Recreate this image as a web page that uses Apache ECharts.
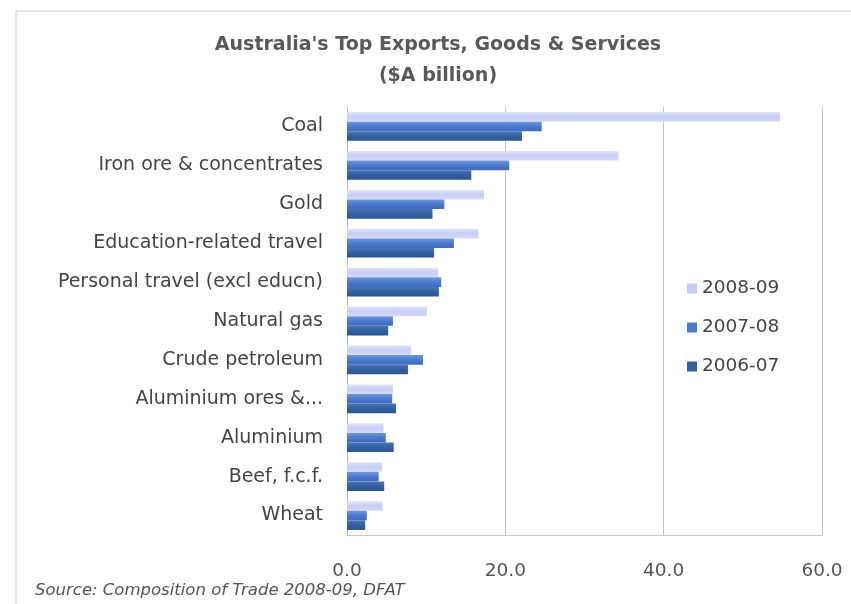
<!DOCTYPE html>
<html>
<head>
<meta charset="utf-8">
<script src="https://cdn.jsdelivr.net/npm/echarts@6/dist/echarts.min.js"></script>
<style>
  html, body { margin: 0; padding: 0; background: #ffffff; }
  #chart { width: 851px; height: 604px; }
</style>
</head>
<body>
<div id="chart"></div>
<script>
// Australia's top exports, goods & services ($A billion)
const categories = [
  'Coal',
  'Iron ore & concentrates',
  'Gold',
  'Education-related travel',
  'Personal travel (excl educn)',
  'Natural gas',
  'Crude petroleum',
  'Aluminium ores &...',
  'Aluminium',
  'Beef, f.c.f.',
  'Wheat'
];
const years = ['2008-09', '2007-08', '2006-07'];
const values2008_09 = [54.7, 34.3, 17.3, 16.6, 11.5, 10.1, 8.1, 5.8, 4.6, 4.4, 4.5];
const values2007_08 = [24.6, 20.5, 12.3, 13.5, 11.9, 5.8, 9.6, 5.7, 4.9, 4.0, 2.5];
const values2006_07 = [22.1, 15.7, 10.8, 11.0, 11.6, 5.2, 7.7, 6.2, 5.9, 4.7, 2.3];
const xTicks = [0, 20, 40, 60];
const titleLines = ["Australia's Top Exports, Goods & Services", '($A billion)'];
const sourceNote = 'Source: Composition of Trade 2008-09, DFAT';

const FONT = 'DejaVu Sans';

function grad(top, mid, bottom) {
  return new echarts.graphic.LinearGradient(0, 0, 0, 1, [
    { offset: 0, color: top },
    { offset: 0.5, color: mid },
    { offset: 1, color: bottom }
  ]);
}

const colours = [
  grad('#dfe3fb', '#c8cef6', '#d6dbf8'),
  grad('#6f97dc', '#4a7acd', '#3d6bbd'),
  grad('#4a74bb', '#34609f', '#2c5592')
];
const legendColours = ['#c6ccf4', '#4a7acd', '#34609f'];
const seriesValues = [values2008_09, values2007_08, values2006_07];

const chart = echarts.init(document.getElementById('chart'), null, { renderer: 'canvas' });

chart.setOption({
  animation: false,
  backgroundColor: '#ffffff',
  textStyle: { fontFamily: FONT },
  legend: {
    orient: 'vertical',
    left: 682,
    top: 274,
    itemWidth: 10,
    itemHeight: 10,
    itemGap: 20,
    icon: 'rect',
    data: years.map((y, i) => ({ name: y, itemStyle: { color: legendColours[i] } })),
    textStyle: { fontFamily: FONT, fontSize: 18.5, color: '#444444' }
  },
  grid: { left: 347, right: 29, top: 107, bottom: 69, containLabel: false },
  xAxis: {
    type: 'value',
    min: 0,
    max: 60,
    interval: 20,
    axisLine: { show: true, lineStyle: { color: '#c8c8c8' } },
    axisTick: { show: false },
    splitLine: { show: true, lineStyle: { color: '#c4c4c4', width: 1 } },
    axisLabel: {
      margin: 27,
      fontFamily: FONT,
      fontSize: 18.5,
      color: '#555555',
      formatter: v => xTicks.includes(v) ? v.toFixed(1) : ''
    }
  },
  yAxis: {
    type: 'category',
    inverse: true,
    data: categories,
    axisLine: { show: true, lineStyle: { color: '#b8b8b8' } },
    axisTick: { show: false },
    axisLabel: {
      margin: 24,
      fontFamily: FONT,
      fontSize: 19,
      color: '#444444'
    }
  },
  series: years.map((y, i) => ({
    name: y,
    type: 'bar',
    data: seriesValues[i],
    barGap: '0%',
    barCategoryGap: '26%',
    itemStyle: { color: colours[i] }
  })),
  graphic: [
    {
      type: 'rect',
      shape: { x: 16, y: 11, width: 1000, height: 700 },
      style: { fill: 'none', stroke: '#dddddd', lineWidth: 1.5 },
      silent: true
    },
    {
      type: 'text',
      x: 438,
      y: 45,
      style: {
        text: titleLines[0],
        align: 'center',
        verticalAlign: 'middle',
        fontFamily: FONT,
        fontWeight: 'bold',
        fontSize: 19,
        fill: '#595959'
      }
    },
    {
      type: 'text',
      x: 438,
      y: 76,
      style: {
        text: titleLines[1],
        align: 'center',
        verticalAlign: 'middle',
        fontFamily: FONT,
        fontWeight: 'bold',
        fontSize: 19,
        fill: '#595959'
      }
    },
    {
      type: 'text',
      x: 35,
      y: 591,
      style: {
        text: sourceNote,
        verticalAlign: 'middle',
        fontFamily: FONT,
        fontStyle: 'italic',
        fontSize: 16.5,
        fill: '#555555'
      }
    }
  ]
});
</script>
</body>
</html>
